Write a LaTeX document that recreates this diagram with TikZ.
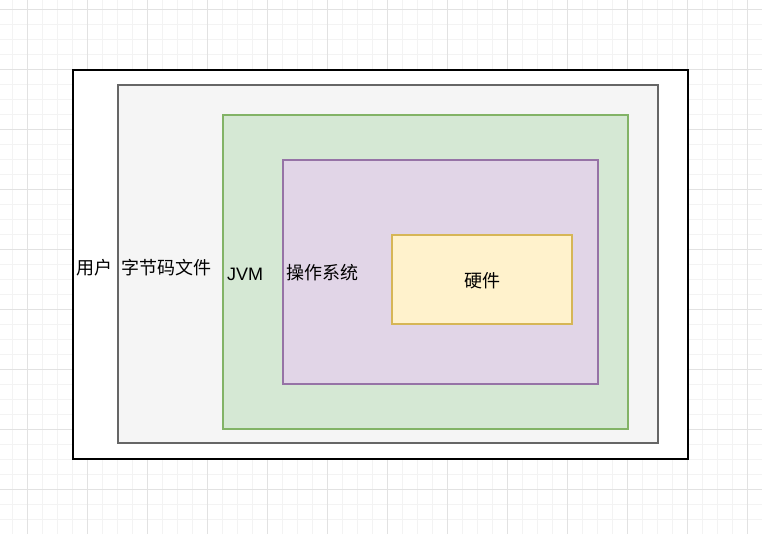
\documentclass[tikz,border=0pt]{standalone}
\usepackage{fontspec}
\setmainfont{Liberation Sans}
\newfontfamily\cjk{Noto Sans CJK SC}
\definecolor{gmajor}{HTML}{E2E2E2}
\definecolor{gminor}{HTML}{F3F3F3}
\definecolor{grayfill}{HTML}{F5F5F5}
\definecolor{graystroke}{HTML}{666666}
\definecolor{greenfill}{HTML}{D5E8D4}
\definecolor{greenstroke}{HTML}{82B366}
\definecolor{purplefill}{HTML}{E1D5E7}
\definecolor{purplestroke}{HTML}{9673A6}
\definecolor{yellowfill}{HTML}{FFF2CC}
\definecolor{yellowstroke}{HTML}{D6B656}
\begin{document}
\begin{tikzpicture}[x=1pt,y=-1pt,
  layerbox/.style={line width=1.2pt},
  lbl/.style={inner sep=0pt,font=\fontsize{18}{21}\selectfont},
  cjklbl/.style={inner sep=0pt,font=\cjk\fontsize{18}{21}\selectfont}]
\useasboundingbox (0,0) rectangle (762,534);
\fill[white] (0,0) rectangle (762,534);
% grid
\foreach \i in {0,...,51} {
  \draw[gminor,line width=0.8pt] ({-2.5+15*\i},0) -- ({-2.5+15*\i},534);
}
\foreach \i in {0,...,36} {
  \draw[gminor,line width=0.8pt] (0,{-5.5+15*\i}) -- (762,{-5.5+15*\i});
}
\foreach \i in {0,...,12} {
  \draw[gmajor,line width=0.8pt] ({27.5+60*\i},0) -- ({27.5+60*\i},534);
}
\foreach \i in {0,...,8} {
  \draw[gmajor,line width=0.8pt] (0,{9.5+60*\i}) -- (762,{9.5+60*\i});
}
% boxes
\draw[layerbox,draw=black,fill=white] (73,70) rectangle (688,459);
\draw[layerbox,draw=graystroke,fill=grayfill] (118,85) rectangle (658,443);
\draw[layerbox,draw=greenstroke,fill=greenfill] (223,115) rectangle (628,429);
\draw[layerbox,draw=purplestroke,fill=purplefill] (283,160) rectangle (598,384);
\draw[layerbox,draw=yellowstroke,fill=yellowfill] (392,235) rectangle (572,324);
% labels
\node[cjklbl,anchor=west] (user) at (76,268) {用户};
\node[cjklbl,anchor=west] (bytecode) at (121,268) {字节码文件};
\node[lbl,anchor=west] (jvm) at (227,274) {JVM};
\node[cjklbl,anchor=west] (os) at (286,273) {操作系统};
\node[cjklbl] (hw) at (482,281) {硬件};
\end{tikzpicture}
\end{document}
